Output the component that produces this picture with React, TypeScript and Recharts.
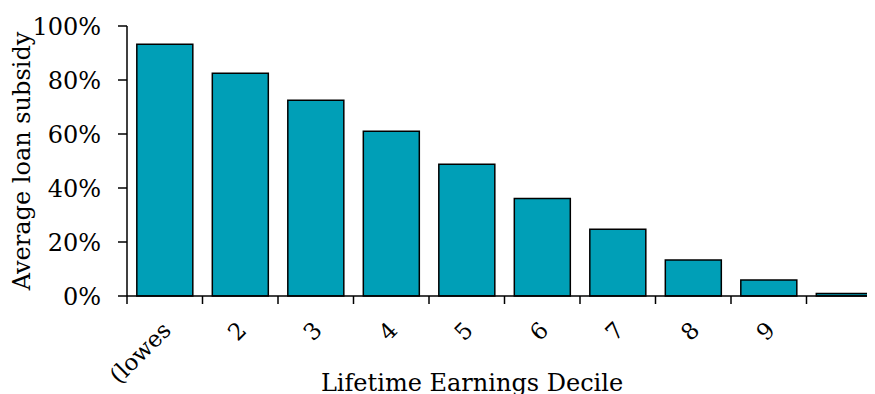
import React from 'react';
import { BarChart, Bar, XAxis, YAxis } from 'recharts';

const deciles = ['1', '2', '3', '4', '5', '6', '7', '8', '9', '10'];
const tickLabels = ['(lowes', '2', '3', '4', '5', '6', '7', '8', '9', ''];
const subsidy = [0.932, 0.825, 0.725, 0.61, 0.488, 0.361, 0.247, 0.133, 0.059, 0.009];
const yTicks = [0, 0.2, 0.4, 0.6, 0.8, 1];

const data = deciles.map((d, i) => ({ decile: d, label: tickLabels[i], subsidy: subsidy[i] }));

const FONT = '"DejaVu Serif", serif';
const PLOT_LEFT = 119;
const PLOT_WIDTH = 755;
const BAND = PLOT_WIDTH / deciles.length;

const DecileTick = ({ x, y, index }: any) => (
  <g>
    <line x1={x - BAND / 2} y1={y} x2={x - BAND / 2} y2={y + 8} stroke="#000" strokeWidth={1.5} />
    <text
      x={x + 2}
      y={y + 30}
      transform={`rotate(-45 ${x + 2} ${y + 30})`}
      textAnchor="end"
      dominantBaseline="central"
      fontFamily={FONT}
      fontSize={23}
      fill="#000"
    >
      {tickLabels[index]}
    </text>
  </g>
);

const YTitle = ({ viewBox }: any) => {
  const cx = viewBox.x + 14;
  const cy = viewBox.y + viewBox.height / 2;
  return (
    <text x={cx} y={cy} transform={`rotate(-90 ${cx} ${cy})`} textAnchor="middle" dominantBaseline="central" fontFamily={FONT} fontSize={24} fill="#000">
      Average loan subsidy
    </text>
  );
};

const XTitle = ({ viewBox }: any) => (
  <text x={viewBox.x + 345} y={viewBox.y + 87} textAnchor="middle" dominantBaseline="central" fontFamily={FONT} fontSize={24} fill="#000">
    Lifetime Earnings Decile
  </text>
);

const App: React.FC = () => {
  return (
    <div style={{ width: 867, height: 386, overflow: 'hidden' }}>
      <BarChart
        width={PLOT_LEFT + PLOT_WIDTH + 6}
        height={390}
        data={data}
        margin={{ top: 18, right: 6, left: 0, bottom: 0 }}
        barCategoryGap="13%"
      >
        <XAxis
          dataKey="decile"
          height={102}
          interval={0}
          tickSize={0}
          tickMargin={0}
          tickLine={false}
          axisLine={{ stroke: '#000', strokeWidth: 1.5 }}
          tick={<DecileTick />}
          label={<XTitle />}
        />
        <YAxis
          width={PLOT_LEFT}
          domain={[0, 1]}
          ticks={yTicks}
          interval={0}
          tickSize={9}
          tickMargin={17}
          tickFormatter={(v: number) => `${Math.round(v * 100)}%`}
          axisLine={{ stroke: '#000', strokeWidth: 1.5 }}
          tickLine={{ stroke: '#000', strokeWidth: 1.5 }}
          tick={{ fill: '#000', fontFamily: FONT, fontSize: 24 }}
          label={<YTitle />}
        />
        <Bar dataKey="subsidy" fill="#009FB7" stroke="#000" strokeWidth={1.5} isAnimationActive={false} />
      </BarChart>
    </div>
  );
};

export default App;
